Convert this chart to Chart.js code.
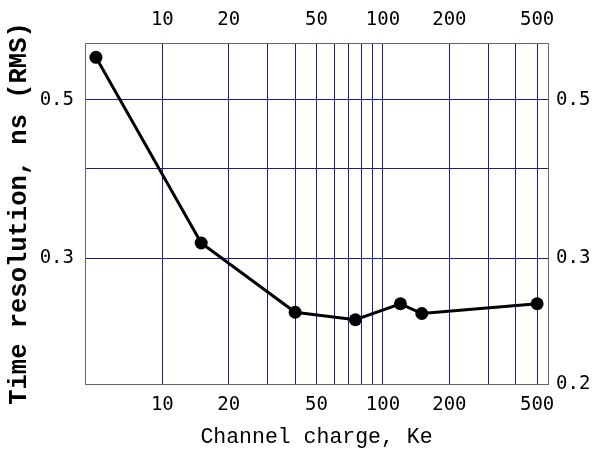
<!DOCTYPE html>
<html>
<head>
<meta charset="utf-8">
<script src="https://cdn.jsdelivr.net/npm/chart.js@4/dist/chart.umd.min.js"></script>
<style>
  html, body { margin: 0; padding: 0; background: #fff; }
  #wrap { width: 596px; height: 451px; }
</style>
</head>
<body>
<div id="wrap"><canvas id="resChart" width="596" height="451"></canvas></div>
<script>
// measured points
const charge = [5, 15, 40, 75, 120, 150, 500];
const resolution = [0.573, 0.315, 0.252, 0.246, 0.259, 0.251, 0.259];

// axes
const xGrid = [10, 20, 30, 40, 50, 60, 70, 80, 90, 100, 200, 300, 400, 500];
const xLabels = [10, 20, 50, 100, 200, 500];
const yGrid = [0.3, 0.4, 0.5];
const yLeftLabels = [0.3, 0.5];
const yRightLabels = [0.2, 0.3, 0.5];

const xMin = 4.46, xMax = 560;
const yMin = 0.2, yMax = 0.6;

const navy = '#1c1c8a';
const frame = '#666666';
const tickFont = { family: 'DejaVu Sans Mono', size: 19 };

function setTicks(values) {
    return scale => { scale.ticks = values.map(v => ({ value: v })); };
}
function showOnly(list) {
    return value => list.some(v => Math.abs(v - value) < 1e-9) ? String(value) : '';
}

const data = {
    datasets: [{
        data: charge.map((c, i) => ({ x: c, y: resolution[i] })),
        borderColor: '#000',
        backgroundColor: '#000',
        borderWidth: 3,
        pointRadius: 6.5,
        pointHoverRadius: 6.5,
        pointBackgroundColor: '#000',
        pointBorderWidth: 0,
        tension: 0
    }]
};

const config = {
    type: 'line',
    data: data,
    options: {
        responsive: false,
        devicePixelRatio: 1,
        animation: false,
        layout: { padding: 0 },
        plugins: {
            legend: { display: false },
            tooltip: { enabled: false }
        },
        scales: {
            x: {
                type: 'logarithmic',
                position: 'bottom',
                min: xMin, max: xMax,
                afterBuildTicks: setTicks(xGrid),
                afterFit: s => { s.height = 67; },
                grid: { color: navy, lineWidth: 1, drawTicks: false },
                border: { display: true, color: frame, width: 1 },
                ticks: {
                    autoSkip: false, maxRotation: 0, padding: 10,
                    color: '#000', font: tickFont,
                    callback: showOnly(xLabels)
                },
                title: {
                    display: true,
                    text: 'Channel charge, Ke',
                    color: '#000',
                    font: { family: 'Liberation Mono', size: 21.5, lineHeight: 1 },
                    padding: { top: 0, bottom: 2.5 }
                }
            },
            x2: {
                type: 'logarithmic',
                position: 'top',
                min: xMin, max: xMax,
                afterBuildTicks: setTicks(xLabels),
                afterFit: s => { s.height = 43; },
                grid: { display: false, drawTicks: false },
                border: { display: true, color: frame, width: 1 },
                ticks: {
                    autoSkip: false, maxRotation: 0, padding: 12,
                    color: '#000', font: tickFont,
                    callback: v => String(v)
                }
            },
            y: {
                type: 'logarithmic',
                position: 'left',
                min: yMin, max: yMax,
                afterBuildTicks: setTicks(yGrid),
                afterFit: s => { s.width = 85; },
                grid: { color: navy, lineWidth: 1, drawTicks: false },
                border: { display: true, color: frame, width: 1 },
                ticks: {
                    autoSkip: false, padding: 11,
                    color: '#000', font: tickFont,
                    callback: showOnly(yLeftLabels)
                },
                title: {
                    display: true,
                    text: 'Time resolution, ns (RMS)',
                    color: '#000',
                    font: { family: 'Liberation Mono', size: 25.5, weight: 'bold', lineHeight: 1 },
                    padding: { top: 7, bottom: 0 }
                }
            },
            y2: {
                type: 'logarithmic',
                position: 'right',
                min: yMin, max: yMax,
                afterBuildTicks: setTicks(yRightLabels),
                afterFit: s => { s.width = 48; },
                grid: { display: false, drawTicks: false },
                border: { display: true, color: frame, width: 1 },
                ticks: {
                    autoSkip: false, padding: 8,
                    color: '#000', font: tickFont,
                    callback: v => String(v)
                }
            }
        }
    }
};

new Chart(document.getElementById('resChart').getContext('2d'), config);
</script>
</body>
</html>
